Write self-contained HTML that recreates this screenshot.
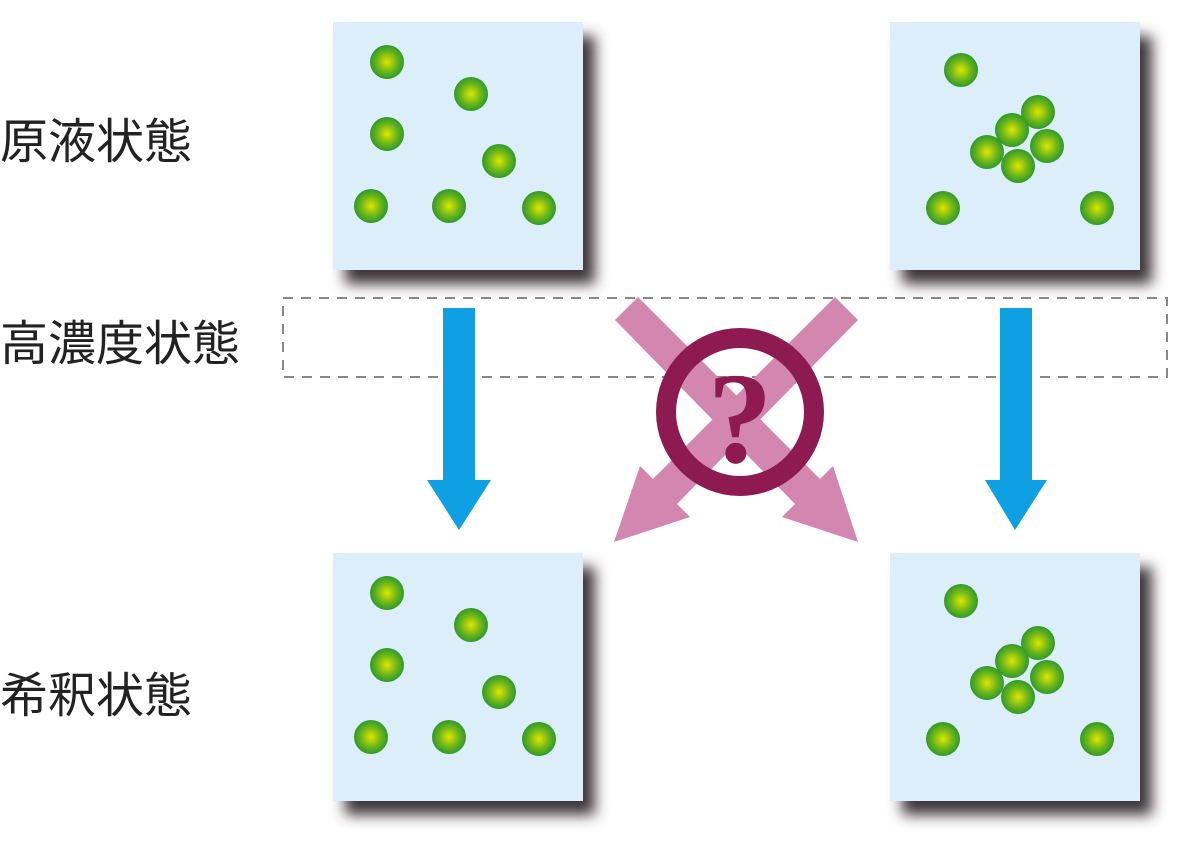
<!DOCTYPE html>
<html><head><meta charset="utf-8"><style>
body{margin:0;width:1200px;height:862px;background:#fff;overflow:hidden;position:relative;font-family:"Liberation Sans","Noto Sans CJK JP",sans-serif}
.lbl{position:absolute;left:0;font-size:48px;color:#222;line-height:1}
</style></head><body>
<div class="lbl" style="top:119px">原液状態</div>
<div class="lbl" style="top:321px">高濃度状態</div>
<div class="lbl" style="top:673px">希釈状態</div>
<svg width="1200" height="862" style="position:absolute;left:0;top:0">
<defs>
<radialGradient id="g" cx="50%" cy="50%" r="50%"><stop offset="0" stop-color="#e0e600"/><stop offset="0.6" stop-color="#6cb51a"/><stop offset="1" stop-color="#2e9a2a"/></radialGradient>
<filter id="sh" x="-20%" y="-20%" width="150%" height="150%"><feGaussianBlur stdDeviation="7"/></filter>
<g id="boxA">
<rect x="12" y="14" width="250" height="248" fill="#3e3638" filter="url(#sh)"/>
<rect x="0" y="0" width="250" height="248" fill="#dceefa"/>
</g>
<g id="dotsL" fill="url(#g)">
<circle cx="54" cy="40" r="17"/><circle cx="138" cy="72" r="17"/><circle cx="54" cy="112" r="17"/><circle cx="166" cy="139" r="17"/><circle cx="38" cy="184" r="17"/><circle cx="116" cy="184" r="17"/><circle cx="206" cy="186" r="17"/>
</g>
<g id="dotsR" fill="url(#g)">
<circle cx="71" cy="48" r="17"/><circle cx="148" cy="90" r="17"/><circle cx="122" cy="108" r="17"/><circle cx="157" cy="124" r="17"/><circle cx="97" cy="130" r="17"/><circle cx="128" cy="144" r="17"/><circle cx="53" cy="186" r="17"/><circle cx="207" cy="186" r="17"/>
</g>
</defs>
<g transform="translate(333,22)"><use href="#boxA"/><use href="#dotsL"/></g>
<g transform="translate(890,22)"><use href="#boxA"/><use href="#dotsR"/></g>
<g transform="translate(333,553)"><use href="#boxA"/><use href="#dotsL"/></g>
<g transform="translate(890,553)"><use href="#boxA"/><use href="#dotsR"/></g>
<rect x="283" y="298" width="884" height="79" fill="none" stroke="#888" stroke-width="2" stroke-dasharray="10,8"/>
<polygon points="443,308 475,308 475,480 491,480 459,530 427,480 443,480" fill="#0ea0e2"/>
<polygon points="1000,308 1032,308 1032,480 1047,480 1015,530 985,480 1000,480" fill="#0ea0e2"/>
<g fill="#d386b0">
<polygon points="615,320 638,297 820,479 833,466 858,542 782,517 795,504"/>
<polygon points="858,320 835,297 653,479 640,466 614,542 690,517 677,504"/>
</g>
<circle cx="740" cy="412" r="74" fill="none" stroke="#8e1a52" stroke-width="20"/>
<text x="740" y="462" text-anchor="middle" font-family="Liberation Serif,serif" font-weight="bold" font-size="130" fill="#8e1a52">?</text>
</svg>
</body></html>
